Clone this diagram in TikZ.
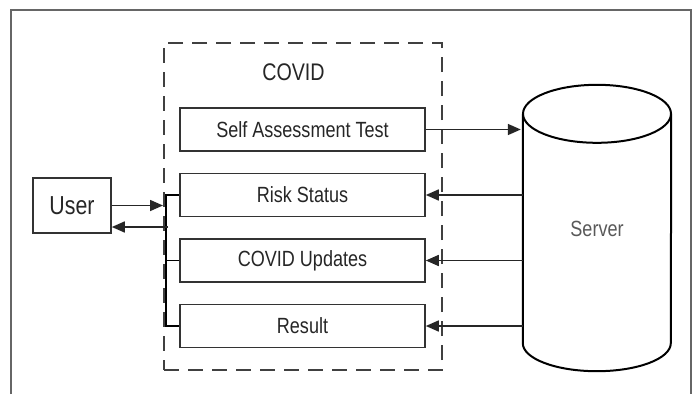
\documentclass[tikz,border=0pt]{standalone}
\usepackage{fontspec}
\setmainfont[FakeStretch=0.82]{Liberation Sans}
\usepackage{tikz}
\usetikzlibrary{shapes,positioning,arrows.meta}
\tikzset{blk/.style={rectangle,draw=black!80,line width=1.6pt,minimum width=245pt,minimum height=43pt,inner sep=0pt,text=black!85,font=\fontsize{22}{26}\selectfont}}
\tikzset{con/.style={line width=1.6pt,draw=black!85}}

\begin{document}
\begin{tikzpicture}[x=1pt,y=-1pt,>={Triangle[length=13pt,width=11pt]}]
        \useasboundingbox (0,0) rectangle (696,394);
        % frame round the figure
        \draw[black!60,line width=1.2pt] (11,394) -- (11,10) -- (691,10) -- (691,394);

        \node[draw=black!75,line width=2.4pt,dash pattern=on 15pt off 9pt,minimum width=278pt,minimum height=327pt] (covid) at (303,206.5) {};
        \node[text=black!85,font=\fontsize{24}{28}\selectfont] (ttl) at (293.5,72) {COVID};

        \node[blk] (sat) at (302.5,129.5) {Self Assessment Test};
        \node[blk] (rs) at (302.5,195) {Risk Status};
        \node[blk] (cu) at (302.5,260.5) {COVID Updates};
        \node[blk] (res) at (302.5,326) {Result};

        \node[blk,minimum width=78pt,minimum height=55pt,font=\fontsize{26}{30}\selectfont] (user) at (72,205.5) {User};

        % server drawn as a cylinder round the node
        \node[minimum width=148pt,minimum height=229pt,inner sep=0pt,text=black!65,font=\fontsize{22}{26}\selectfont] (server) at (597,228.5) {Server};
        \draw[line width=2pt] (server.north west) -- (server.south west) arc[start angle=180,end angle=360,x radius=74pt,y radius=28pt] -- (server.north east);
        \draw[line width=2pt] (server.north) ellipse[x radius=74pt,y radius=29pt];

        % bus on the left of the lower boxes
        \coordinate (bt) at (166,195);
        \coordinate (busin) at (163,205.5);
        \coordinate (busout) at (168,227);
        \draw[line width=1.6pt] (rs.west) -- (rs.west -| bt) -- (res.west -| bt) -- (res.west);
        \draw[line width=1.6pt] (cu.west) -- (cu.west -| bt);

        \draw[con,->] (user.east) -- (busin);
        \draw[con,->] (busout) -- (busout -| user.east);

        \draw[con,->] (sat.east) -- ([xshift=-2pt]sat.east -| server.west);
        \draw[con,->] (rs.east -| server.west) -- (rs.east);
        \draw[con,->] (cu.east -| server.west) -- (cu.east);
        \draw[con,->] (res.east -| server.west) -- (res.east);
    \end{tikzpicture}
\end{document}
